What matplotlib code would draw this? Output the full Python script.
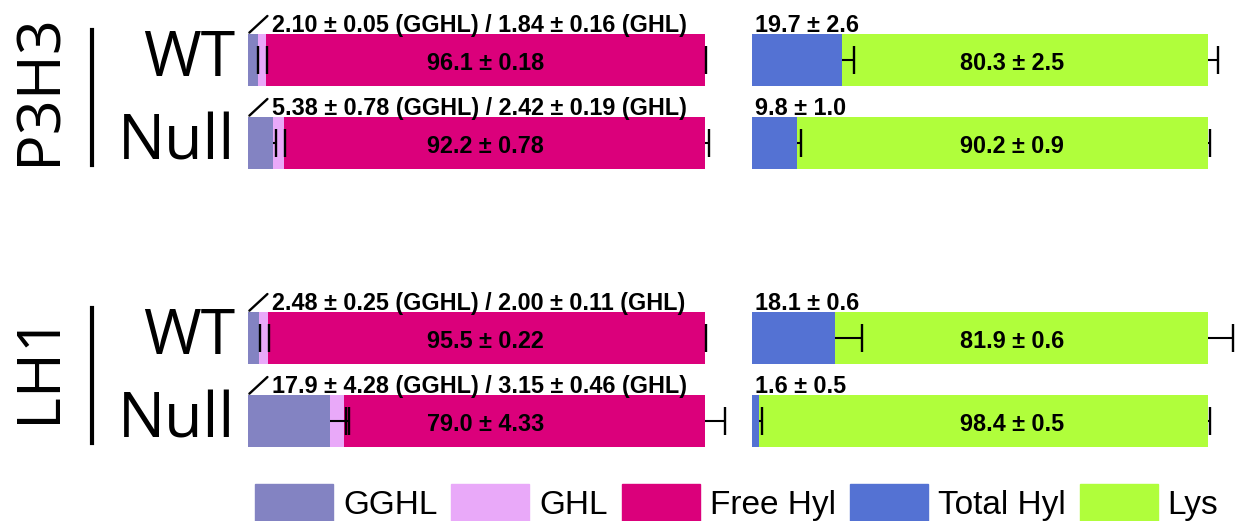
import matplotlib
matplotlib.use("Agg")
import matplotlib.pyplot as plt
from matplotlib.patches import Patch
import numpy as np

# rows top to bottom: P3H3 WT, P3H3 Null, LH1 WT, LH1 Null
groups = ["P3H3", "LH1"]
rows = ["WT", "Null", "WT", "Null"]

# left panel: glycosylation state of Hyl (%)
gghl = [2.10, 5.38, 2.48, 17.9]
gghl_err = [0.05, 0.78, 0.25, 4.28]
ghl = [1.84, 2.42, 2.00, 3.15]
ghl_err = [0.16, 0.19, 0.11, 0.46]
free_hyl = [96.1, 92.2, 95.5, 79.0]
free_hyl_err = [0.18, 0.78, 0.22, 4.33]

# right panel: Hyl vs Lys (%)
total_hyl = [19.7, 9.8, 18.1, 1.6]
total_hyl_err = [2.6, 1.0, 0.6, 0.5]
lys = [80.3, 90.2, 81.9, 98.4]
lys_err = [2.5, 0.9, 0.6, 0.5]
# error bars as drawn in the figure (LH1 WT ones are longer than the label)
total_hyl_bar = [2.6, 1.0, 6.0, 0.5]
lys_bar = [2.3, 0.5, 5.5, 0.5]

colors = {"GGHL": "#8383c2", "GHL": "#e9a9f9", "Free Hyl": "#db007b",
          "Total Hyl": "#5472d3", "Lys": "#b0fe3b"}

num_font = "Liberation Sans"
big_font = "Open Sans"
fs = 16.8

ypos = np.array([0, 1, 3.35, 4.35])
bar_h = 0.62

fig = plt.figure(figsize=(12.38, 5.21), dpi=100)
axL = fig.add_axes([248 / 1238, 61 / 521, 457 / 1238, 460 / 521])
axR = fig.add_axes([752 / 1238, 61 / 521, 456 / 1238, 460 / 521])


def err_bars(ax, ends, errs):
    ends = np.array(ends)
    errs = np.array(errs)
    ax.hlines(ypos, ends, ends + errs, color="black", lw=1.5, clip_on=False)
    ax.plot(ends + errs, ypos, ls="none", marker="|", ms=20, mew=1.7,
            color="black", clip_on=False)


# left panel
g1 = np.array(gghl)
g2 = g1 + np.array(ghl)
g3 = g2 + np.array(free_hyl)
axL.barh(ypos, gghl, height=bar_h, color=colors["GGHL"])
axL.barh(ypos, ghl, left=g1, height=bar_h, color=colors["GHL"])
axL.barh(ypos, free_hyl, left=g2, height=bar_h, color=colors["Free Hyl"])
err_bars(axL, g1, gghl_err)
err_bars(axL, g2, ghl_err)
err_bars(axL, g3, free_hyl_err)

for i, y in enumerate(ypos):
    axL.text(52, y + 0.04, f"{free_hyl[i]:.1f} ± {free_hyl_err[i]:.2f}",
             ha="center", va="center", fontsize=fs, fontweight="bold",
             family=num_font)
    top = y - bar_h / 2
    axL.annotate("", xy=(0.3, top - 0.02), xytext=(13, 12), textcoords="offset points",
                 arrowprops=dict(arrowstyle="-", lw=1.7, shrinkA=0, shrinkB=0))
    gtxt = f"{gghl[i]:.3g}" if gghl[i] >= 10 else f"{gghl[i]:.2f}"
    axL.annotate(f"{gtxt} ± {gghl_err[i]:.2f} (GGHL) / {ghl[i]:.2f} ± {ghl_err[i]:.2f} (GHL)",
                 xy=(0, top), xytext=(17, 2), textcoords="offset points",
                 ha="left", va="baseline", fontsize=fs, fontweight="bold",
                 family=num_font)
    axL.annotate(rows[i], xy=(0, y), xytext=(-9, 0), textcoords="offset points",
                 ha="right", va="center", fontsize=45, family=big_font)

# right panel
h1 = np.array(total_hyl)
h2 = h1 + np.array(lys)
axR.barh(ypos, total_hyl, height=bar_h, color=colors["Total Hyl"])
axR.barh(ypos, lys, left=h1, height=bar_h, color=colors["Lys"])
err_bars(axR, h1, total_hyl_bar)
err_bars(axR, h2, lys_bar)

for i, y in enumerate(ypos):
    axR.text(57, y + 0.04, f"{lys[i]:.1f} ± {lys_err[i]:.1f}",
             ha="center", va="center", fontsize=fs, fontweight="bold",
             family=num_font)
    axR.annotate(f"{total_hyl[i]:.1f} ± {total_hyl_err[i]:.1f}",
                 xy=(0, y - bar_h / 2), xytext=(2, 2), textcoords="offset points",
                 ha="left", va="baseline", fontsize=fs, fontweight="bold",
                 family=num_font)

# group labels with a vertical rule
for k, name in enumerate(groups):
    r0, r1 = ypos[2 * k], ypos[2 * k + 1]
    axL.plot([-0.3414, -0.3414], [r0 - 0.36, r1 + 0.27], color="black", lw=3,
             transform=axL.get_yaxis_transform(), clip_on=False)
    axL.text(-0.457, (r0 + r1) / 2 - 0.15, name, rotation=90, ha="center",
             va="center", fontsize=44, family=big_font,
             transform=axL.get_yaxis_transform())

for ax in (axL, axR):
    ax.set_xlim(0, 100)
    ax.set_ylim(4.819, -0.723)
    ax.axis("off")

handles = [Patch(color=c, label=k) for k, c in colors.items()]
fig.legend(handles=handles, loc="upper left",
           bbox_to_anchor=(255 / 1238, 1 - 484 / 521), ncol=5, frameon=False,
           prop={"family": num_font, "size": 24}, handlelength=2.34,
           handleheight=1.35, handletextpad=0.3, columnspacing=0.42,
           borderpad=0, borderaxespad=0)

fig.savefig("out.png", dpi=100)
